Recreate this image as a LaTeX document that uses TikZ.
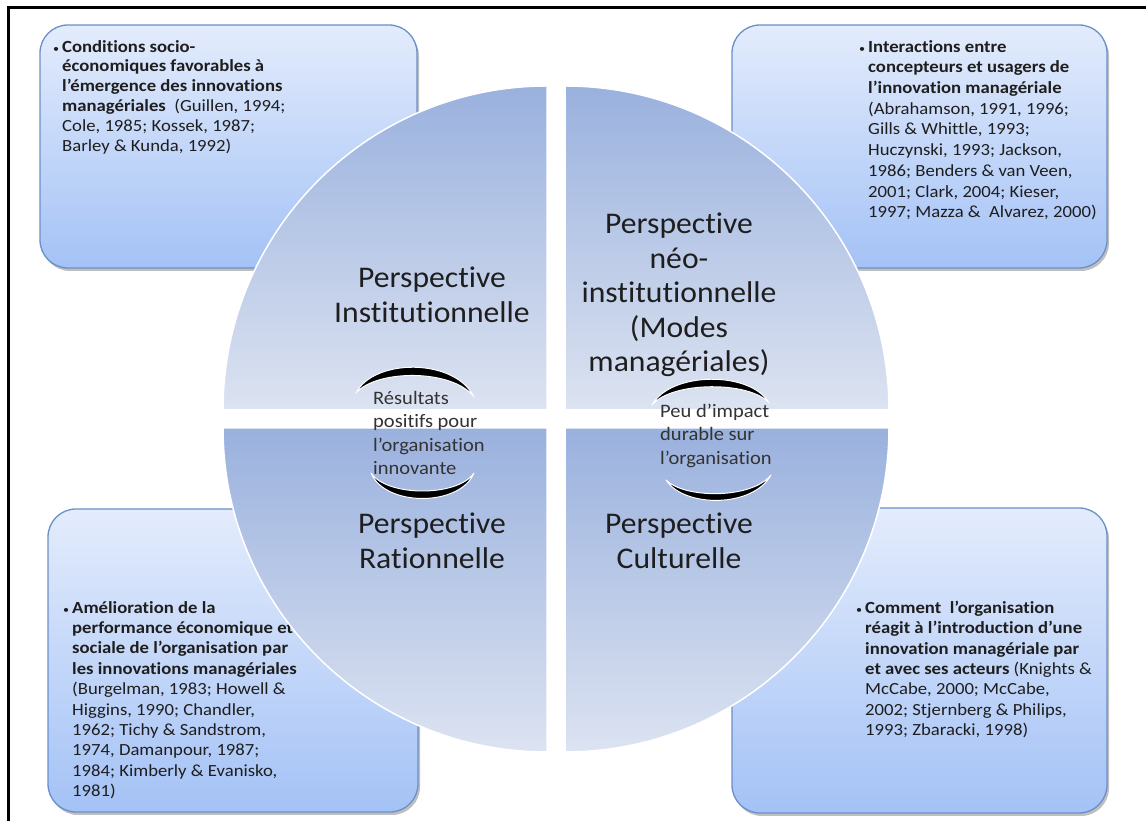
\documentclass[tikz,border=0pt]{standalone}
\usepackage{fontspec}
\setmainfont[Ligatures=NoCommon]{Carlito}
\newfontfamily\boxfont[FakeStretch=1.1,Ligatures=NoCommon]{Carlito}
\newfontfamily\quadfont[FakeStretch=1.055,Ligatures=NoCommon]{Carlito}
\newfontfamily\cfont[FakeStretch=1.08,Ligatures=NoCommon]{Carlito}
\usetikzlibrary{shadows}
\definecolor{boxtop}{HTML}{E3ECFC}
\definecolor{boxbot}{HTML}{A4C2F6}
\definecolor{boxedge}{HTML}{6B90C8}
\definecolor{quadtop}{HTML}{9AB1DE}
\definecolor{quadbot}{HTML}{DCE3F1}
\definecolor{txt}{HTML}{1E1E1E}
\begin{document}
\begin{tikzpicture}[x=1pt,y=1pt,
  box/.style={rectangle, rounded corners=28pt, draw=boxedge, line width=1.3pt,
    top color=boxtop, bottom color=boxbot, inner sep=0pt,
    drop shadow={shadow xshift=2pt, shadow yshift=-3pt, opacity=0.25, fill=black}},
  quad/.style={draw=white, line width=1.5pt, top color=quadtop, bottom color=quadbot},
  btxt/.style={anchor=north west, inner sep=0pt, align=left, text=txt},
  qtxt/.style={align=center, inner sep=0pt, text=txt, font=\quadfont\fontsize{30}{34.5}\selectfont},
  ctxt/.style={anchor=north west, inner sep=0pt, align=left, text=black!80, font=\cfont\fontsize{19}{23.4}\selectfont},
  crescent/.style={fill=black, draw=white, line width=1pt, line join=round}
]
\useasboundingbox (0,0) rectangle (1146,821);
\fill[white] (0,0) rectangle (1146,821);
% frame
\draw[line width=2.5pt, line join=miter] (8.7,0) -- (8.7,813.5) -- (1146,813.5);

% corner boxes
\node[box, minimum width=377pt, minimum height=243pt] (btl) at (228.5,674.5) {};
\node[box, minimum width=375pt, minimum height=243pt] (btr) at (919.5,674.5) {};
\node[box, minimum width=370pt, minimum height=303pt] (bbl) at (233,160.5) {};
\node[box, minimum width=375pt, minimum height=305pt] (bbr) at (919.5,160.5) {};

\newcommand{\bul}{\llap{{\fontsize{11}{11}\selectfont •}\hspace{3pt}}}

\node[btxt, font=\boxfont\fontsize{17}{19.8}\selectfont] (ttl) at (62,781) {%
\bul\textbf{Conditions socio-}\\
\textbf{économiques favorables à}\\
\textbf{l’émergence des innovations}\\
\textbf{managériales}\ \ (Guillen, 1994;\\
Cole, 1985; Kossek, 1987;\\
Barley \& Kunda, 1992)};

\node[btxt, font=\boxfont\fontsize{17}{20.7}\selectfont] (ttr) at (868,781) {%
\bul\textbf{Interactions entre}\\
\textbf{concepteurs et usagers de}\\
\textbf{l’innovation managériale}\\
(Abrahamson, 1991, 1996;\\
Gills \& Whittle, 1993;\\
Huczynski, 1993; Jackson,\\
1986; Benders \& van Veen,\\
2001; Clark, 2004; Kieser,\\
1997; Mazza \&\ \ Alvarez, 2000)};

\node[btxt, font=\boxfont\fontsize{17}{20.4}\selectfont] (tbl) at (72,220) {%
\bul\textbf{Amélioration de la}\\
\textbf{performance économique et}\\
\textbf{sociale de l’organisation par}\\
\textbf{les innovations managériales}\\
(Burgelman, 1983; Howell \&\\
Higgins, 1990; Chandler,\\
1962; Tichy \& Sandstrom,\\
1974, Damanpour, 1987;\\
1984; Kimberly \& Evanisko,\\
1981)};

\node[btxt, font=\boxfont\fontsize{17}{20.3}\selectfont] (tbr) at (865,220) {%
\bul\textbf{Comment\ \ l’organisation}\\
\textbf{réagit à l’introduction d’une}\\
\textbf{innovation managériale par}\\
\textbf{et avec ses acteurs} (Knights \&\\
McCabe, 2000; McCabe,\\
2002; Stjernberg \& Philips,\\
1993; Zbaracki, 1998)};

% circle quadrants
\path[quad] (547,411) -- ++(-324,0) arc[start angle=180, end angle=90, radius=324] -- cycle;
\path[quad] (565,411) -- ++(0,324) arc[start angle=90, end angle=0, radius=324] -- cycle;
\path[quad] (547,393) -- ++(-324,0) arc[start angle=180, end angle=270, radius=324] -- cycle;
\path[quad] (565,393) -- ++(324,0) arc[start angle=0, end angle=-90, radius=324] -- cycle;

\node[qtxt] (qtl) at (432,526) {Perspective\\Institutionnelle};
\node[qtxt] (qtr) at (679,526) {Perspective\\néo-\\institutionnelle\\(Modes\\managériales)};
\node[qtxt] (qbl) at (432,280) {Perspective\\Rationnelle};
\node[qtxt] (qbr) at (679,280) {Perspective\\Culturelle};

% cycle arcs
\path[crescent] (356,428) .. controls (374,463) and (455,463) .. (474,424)
  .. controls (453,452) and (377,452) .. cycle;
\path[crescent] (371,348) .. controls (385,314) and (460,314) .. (474,348)
  .. controls (458,324) and (387,324) .. cycle;
\path[crescent] (652,416) .. controls (671,450) and (751,450) .. (769,418)
  .. controls (750,440) and (672,440) .. cycle;
\path[crescent] (666,341) .. controls (684,313) and (753,313) .. (771,346)
  .. controls (752,322) and (685,322) .. cycle;

\node[ctxt] (cl) at (373,430) {Résultats\\positifs pour\\l’organisation\\innovante};
\node[ctxt] (cr) at (660,417) {Peu d’impact\\durable sur\\l’organisation};
\end{tikzpicture}
\end{document}
